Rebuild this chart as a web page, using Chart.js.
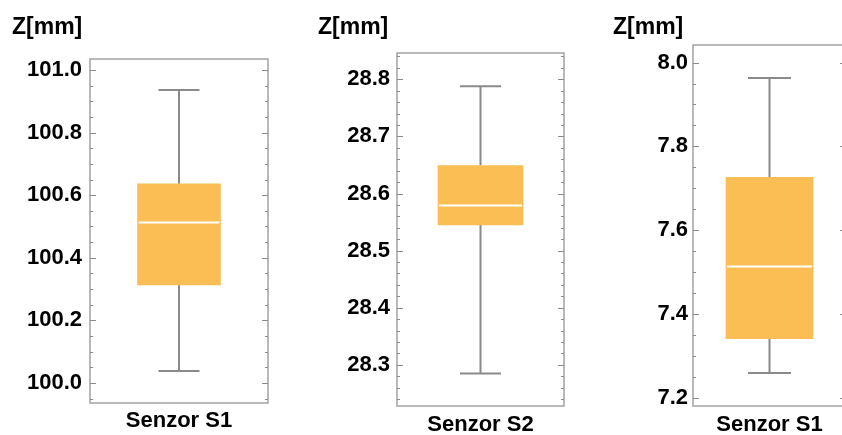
<!DOCTYPE html>
<html>
<head>
<meta charset="utf-8">
<script src="https://cdn.jsdelivr.net/npm/chart.js@4/dist/chart.umd.min.js"></script>
<style>
  html, body { margin: 0; padding: 0; background: #fff; overflow: hidden; }
  body { width: 842px; height: 435px; position: relative; }
  .panel { position: absolute; top: 0; height: 435px; }
</style>
</head>
<body>
<div class="panel" style="left:0;width:280px"><canvas id="c0"></canvas></div>
<div class="panel" style="left:280px;width:290px"><canvas id="c1"></canvas></div>
<div class="panel" style="left:570px;width:290px"><canvas id="c2"></canvas></div>
<script>
// box plot summaries
var sensorLabels = ["Senzor S1", "Senzor S2", "Senzor S1"];
var whiskerLow  = [100.038, 28.285, 7.259];
var quart1      = [100.313, 28.545, 7.341];
var medians     = [100.513, 28.579, 7.513];
var quart3      = [100.636, 28.649, 7.726];
var whiskerHigh = [100.936, 28.788, 7.963];

// axis settings
var axisMin   = [99.936, 28.228, 7.180];
var axisMax   = [101.035, 28.846, 8.042];
var majorStep = [0.2, 0.1, 0.2];
var minorStep = [0.05, 0.02, 0.05];
var yTitle = "Z[mm]";

// layout (px inside each canvas)
var areaTop    = [59, 53, 45];
var areaBottom = [32, 29, 29];
var yAxisWidth = [90, 117, 123];
var padRight   = [12, 6, 14];
var labelPad   = [8, 7, 5];
var xLabelPad  = [5, 6, 6];
var boxWidth   = [83, 85, 87];
var capWidth   = [41, 41, 43];
var titleX     = [12, 38, 43];

var FONT = "'Liberation Sans', Arial, Helvetica, sans-serif";
var BOX = "#FABE54";
var LINE = "#8a8a8a";
var FRAME = "#a3a3a3";

function isMajor(v, step) {
  var r = v / step;
  return Math.abs(r - Math.round(r)) < 1e-6;
}

var boxParts = {
  id: "boxParts",
  beforeDatasetsDraw: function(chart) {
    var i = chart.options.plugins.boxParts.index;
    var ctx = chart.ctx, y = chart.scales.y;
    var cx = chart.scales.x.getPixelForValue(0);
    var h = capWidth[i] / 2;
    var yl = y.getPixelForValue(whiskerLow[i]);
    var yh = y.getPixelForValue(whiskerHigh[i]);
    var y1 = y.getPixelForValue(quart1[i]);
    var y3 = y.getPixelForValue(quart3[i]);
    ctx.save();
    ctx.strokeStyle = LINE;
    ctx.lineWidth = 2;
    ctx.beginPath();
    ctx.moveTo(cx, yh); ctx.lineTo(cx, y3);
    ctx.moveTo(cx, y1); ctx.lineTo(cx, yl);
    ctx.moveTo(cx - h, yh); ctx.lineTo(cx + h, yh);
    ctx.moveTo(cx - h, yl); ctx.lineTo(cx + h, yl);
    ctx.stroke();
    ctx.restore();
  },
  afterDatasetsDraw: function(chart) {
    var i = chart.options.plugins.boxParts.index;
    var ctx = chart.ctx;
    var bar = chart.getDatasetMeta(0).data[0];
    var ym = chart.scales.y.getPixelForValue(medians[i]);
    ctx.save();
    ctx.strokeStyle = "#ffffff";
    ctx.lineWidth = 2;
    ctx.beginPath();
    ctx.moveTo(bar.x - bar.width / 2 + 1, ym);
    ctx.lineTo(bar.x + bar.width / 2 - 1, ym);
    ctx.stroke();
    ctx.restore();
  },
  afterDraw: function(chart) {
    var i = chart.options.plugins.boxParts.index;
    var ctx = chart.ctx, a = chart.chartArea, y = chart.scales.y;
    ctx.save();
    // frame
    ctx.strokeStyle = FRAME;
    ctx.lineWidth = 1.5;
    ctx.strokeRect(a.left, a.top, a.right - a.left, a.bottom - a.top);
    // inward ticks on both sides
    ctx.strokeStyle = LINE;
    ctx.lineWidth = 1;
    ctx.beginPath();
    y.ticks.forEach(function(t) {
      var py = Math.round(y.getPixelForValue(t.value)) + 0.5;
      var len = isMajor(t.value, majorStep[i]) ? 6 : 3;
      ctx.moveTo(a.left, py); ctx.lineTo(a.left + len, py);
      ctx.moveTo(a.right, py); ctx.lineTo(a.right - len, py);
    });
    ctx.stroke();
    // axis title
    ctx.fillStyle = "#000";
    ctx.font = "bold 23px " + FONT;
    ctx.textBaseline = "alphabetic";
    ctx.textAlign = "left";
    ctx.fillText(yTitle, titleX[i], 34);
    ctx.restore();
  }
};

function makeBox(i) {
  new Chart("c" + i, {
    type: "bar",
    data: {
      labels: [sensorLabels[i]],
      datasets: [{
        data: [[quart1[i], quart3[i]]],
        backgroundColor: BOX,
        borderWidth: 0,
        barThickness: boxWidth[i]
      }]
    },
    options: {
      responsive: true,
      maintainAspectRatio: false,
      animation: false,
      layout: { padding: { top: areaTop[i], right: padRight[i], left: 0, bottom: 0 } },
      plugins: {
        legend: { display: false },
        tooltip: { enabled: false },
        boxParts: { index: i }
      },
      scales: {
        x: {
          grid: { display: false, drawTicks: false },
          border: { display: false },
          ticks: { color: "#000", font: { family: FONT, size: 22, weight: "bold" }, padding: xLabelPad[i] },
          afterFit: function(s) { s.height = areaBottom[i]; }
        },
        y: {
          min: axisMin[i],
          max: axisMax[i],
          grid: { display: false, drawTicks: false },
          border: { display: false },
          ticks: {
            stepSize: minorStep[i],
            includeBounds: false,
            autoSkip: false,
            maxTicksLimit: 200,
            padding: labelPad[i],
            color: "#000",
            font: { family: FONT, size: 22, weight: "bold" },
            callback: function(v) { return isMajor(v, majorStep[i]) ? v.toFixed(1) : ""; }
          },
          afterFit: function(s) { s.width = yAxisWidth[i]; }
        }
      }
    },
    plugins: [boxParts]
  });
}

makeBox(0);
makeBox(1);
makeBox(2);
</script>
</body>
</html>
